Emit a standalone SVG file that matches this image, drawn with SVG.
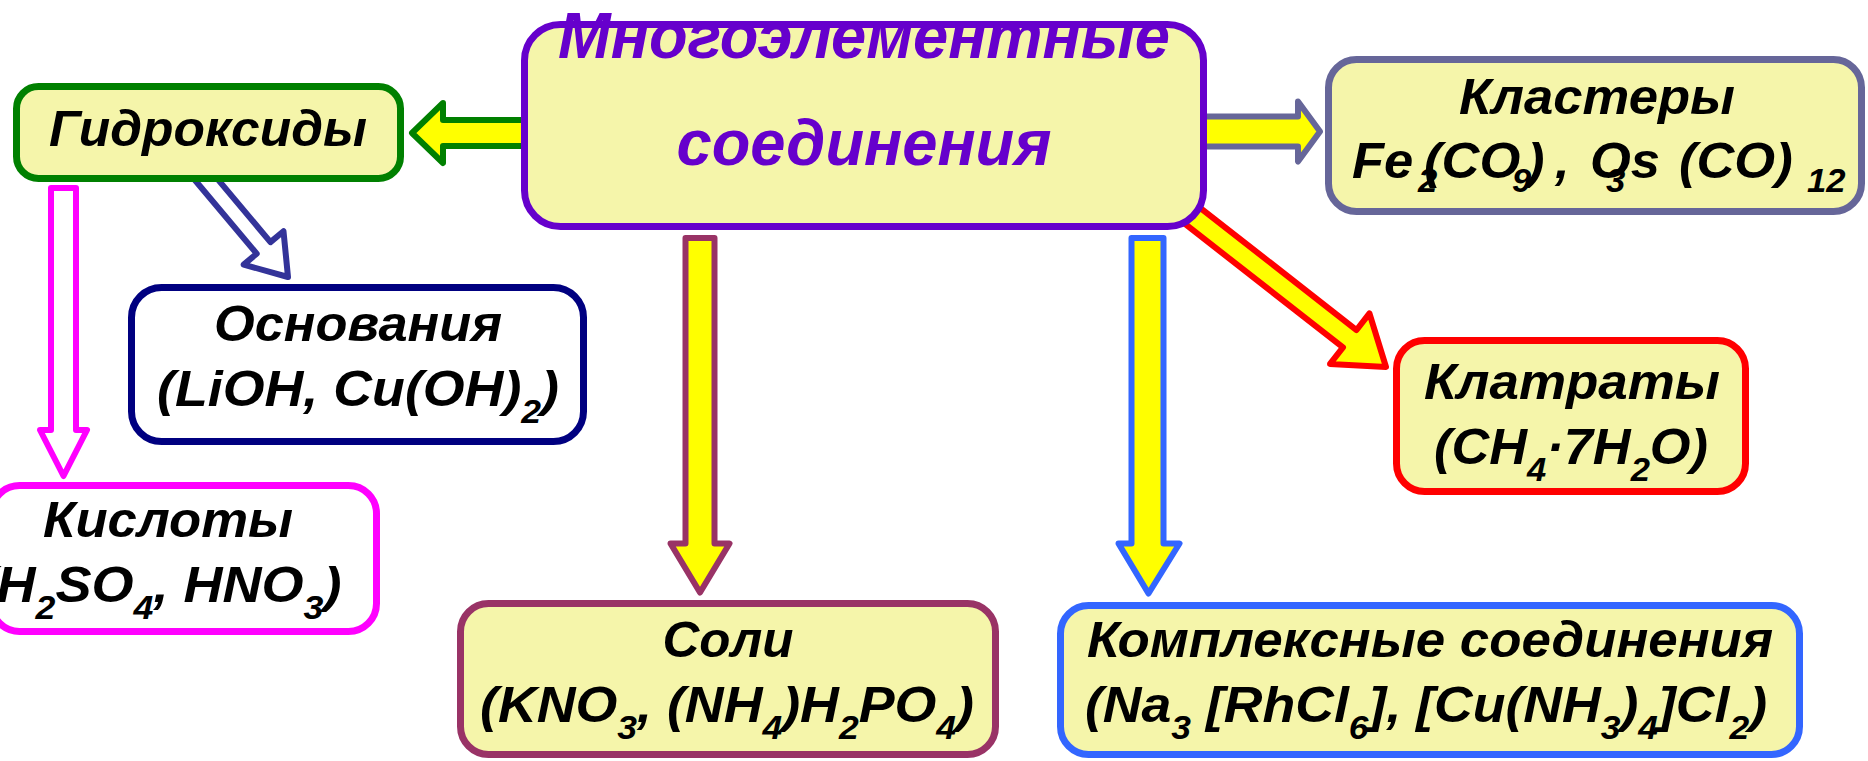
<svg xmlns="http://www.w3.org/2000/svg" width="1868" height="761" viewBox="0 0 1868 761">
<style>
.t{font-family:"Liberation Sans",Arial,sans-serif;font-weight:bold;font-style:italic;font-size:50px;fill:#000;text-anchor:middle}
.m{font-size:64px;fill:#6600CC}
.s{font-size:33px}
.st{text-anchor:start}
.y{fill:#F5F5AA}
.w{fill:#FFFFFF}
.bx{stroke-width:7}
.arr{stroke-width:6;stroke-linejoin:round}
.af{fill:#FFFF00}
</style>
<rect width="1868" height="761" fill="#FFFFFF"/>
<g id="connectors">
  <polygon class="arr af" stroke="#008000" points="528,120 443,120 443,103 412,133 443,163 443,146 528,146"/>
  <polygon class="arr af" stroke="#666699" points="1195,116.5 1298,116.5 1298,101.5 1320,131.5 1298,161.5 1298,146.5 1195,146.5"/>
  <polygon class="arr w" stroke="#FF00FF" points="51,188 51,430 40,430 63.5,476 87,430 76,430 76,188"/>
  <polygon class="arr w" stroke="#333399" transform="translate(288,277) rotate(50)" points="-145,-9 -38,-9 -38,-26 0,0 -38,26 -38,9 -145,9"/>
  <polygon class="arr af" stroke="#993366" stroke-width="7" points="685.5,238 685.5,543.5 670.5,543.5 700,592.5 729.5,543.5 714.5,543.5 714.5,238"/>
  <polygon class="arr af" stroke="#3366FF" stroke-width="7" points="1131.5,238 1131.5,543.5 1118.5,543.5 1148.5,593.5 1179.5,543.5 1163.5,543.5 1163.5,238"/>
  <polygon class="arr af" stroke="#FF0000" transform="translate(1386,367) rotate(38)" points="-255,-11 -46,-11 -46,-32 0,0 -46,32 -46,11 -255,11"/>
</g>
<g id="n-center">
  <rect class="y bx" x="524.5" y="24.5" width="679" height="202" rx="36" stroke="#6600CC"/>
  <text class="t m" x="864" y="58" textLength="612" lengthAdjust="spacingAndGlyphs">Многоэлементные</text>
  <text class="t m" x="864" y="165" textLength="375" lengthAdjust="spacingAndGlyphs">соединения</text>
</g>
<g id="n-hydroxides">
  <rect class="y bx" x="16.5" y="86.5" width="384" height="92" rx="22" stroke="#008000"/>
  <text class="t" x="208" y="146" textLength="318" lengthAdjust="spacingAndGlyphs">Гидроксиды</text>
</g>
<g id="n-bases">
  <rect class="w bx" x="131.5" y="287.5" width="452" height="154" rx="30" stroke="#000080"/>
  <text class="t" x="358" y="341" textLength="288" lengthAdjust="spacingAndGlyphs">Основания</text>
  <text class="t" x="358" y="406" textLength="402" lengthAdjust="spacingAndGlyphs">(LiOH, Cu(OH)<tspan class="s" dy="17">2</tspan><tspan dy="-17">)</tspan></text>
</g>
<g id="n-acids">
  <rect class="w bx" x="-8.5" y="485.5" width="385" height="146" rx="28" stroke="#FF00FF"/>
  <text class="t" x="168" y="537" textLength="250" lengthAdjust="spacingAndGlyphs">Кислоты</text>
  <text class="t" x="160" y="602" textLength="363" lengthAdjust="spacingAndGlyphs">(H<tspan class="s" dy="17">2</tspan><tspan dy="-17">SO</tspan><tspan class="s" dy="17">4</tspan><tspan dy="-17">, HNO</tspan><tspan class="s" dy="17">3</tspan><tspan dy="-17">)</tspan></text>
</g>
<g id="n-salts">
  <rect class="y bx" x="460.5" y="603.5" width="535" height="151" rx="28" stroke="#993366"/>
  <text class="t" x="728" y="657" textLength="131" lengthAdjust="spacingAndGlyphs">Соли</text>
  <text class="t" x="727" y="722" textLength="494" lengthAdjust="spacingAndGlyphs">(KNO<tspan class="s" dy="17">3</tspan><tspan dy="-17">, (NH</tspan><tspan class="s" dy="17">4</tspan><tspan dy="-17">)H</tspan><tspan class="s" dy="17">2</tspan><tspan dy="-17">PO</tspan><tspan class="s" dy="17">4</tspan><tspan dy="-17">)</tspan></text>
</g>
<g id="n-complex">
  <rect class="y bx" x="1060.5" y="605.5" width="739" height="149" rx="28" stroke="#3366FF"/>
  <text class="t" x="1430" y="657" textLength="686" lengthAdjust="spacingAndGlyphs">Комплексные соединения</text>
  <text class="t" x="1426" y="722" textLength="682" lengthAdjust="spacingAndGlyphs">(Na<tspan class="s" dy="17">3</tspan><tspan dy="-17"> [RhCl</tspan><tspan class="s" dy="17">6</tspan><tspan dy="-17">], [Cu(NH</tspan><tspan class="s" dy="17">3</tspan><tspan dy="-17">)</tspan><tspan class="s" dy="17">4</tspan><tspan dy="-17">]Cl</tspan><tspan class="s" dy="17">2</tspan><tspan dy="-17">)</tspan></text>
</g>
<g id="n-clathrates">
  <rect class="y bx" x="1396.5" y="340.5" width="349" height="151" rx="28" stroke="#FF0000"/>
  <text class="t" x="1572" y="399" textLength="296" lengthAdjust="spacingAndGlyphs">Клатраты</text>
  <text class="t" x="1571" y="464" textLength="274" lengthAdjust="spacingAndGlyphs">(CH<tspan class="s" dy="17">4</tspan><tspan dy="-17">·7H</tspan><tspan class="s" dy="17">2</tspan><tspan dy="-17">O)</tspan></text>
</g>
<g id="n-clusters">
  <rect class="y bx" x="1328.5" y="59.5" width="533" height="152" rx="28" stroke="#666699"/>
  <text class="t" x="1597" y="114" textLength="276" lengthAdjust="spacingAndGlyphs">Кластеры</text>
  <text class="t st" transform="scale(1.05,1)" y="178"><tspan x="1287.6">Fe</tspan><tspan class="s" x="1350.5" y="192">2</tspan><tspan x="1356.2" y="178">(CO</tspan><tspan class="s" x="1440" y="192">9</tspan><tspan x="1454.3" y="178">)</tspan><tspan x="1481">,</tspan><tspan x="1514.3">Os</tspan><tspan class="s" x="1529.5" y="192">3</tspan><tspan x="1599" y="178">(CO)</tspan><tspan class="s" x="1721" y="192">12</tspan></text>
</g>
</svg>
